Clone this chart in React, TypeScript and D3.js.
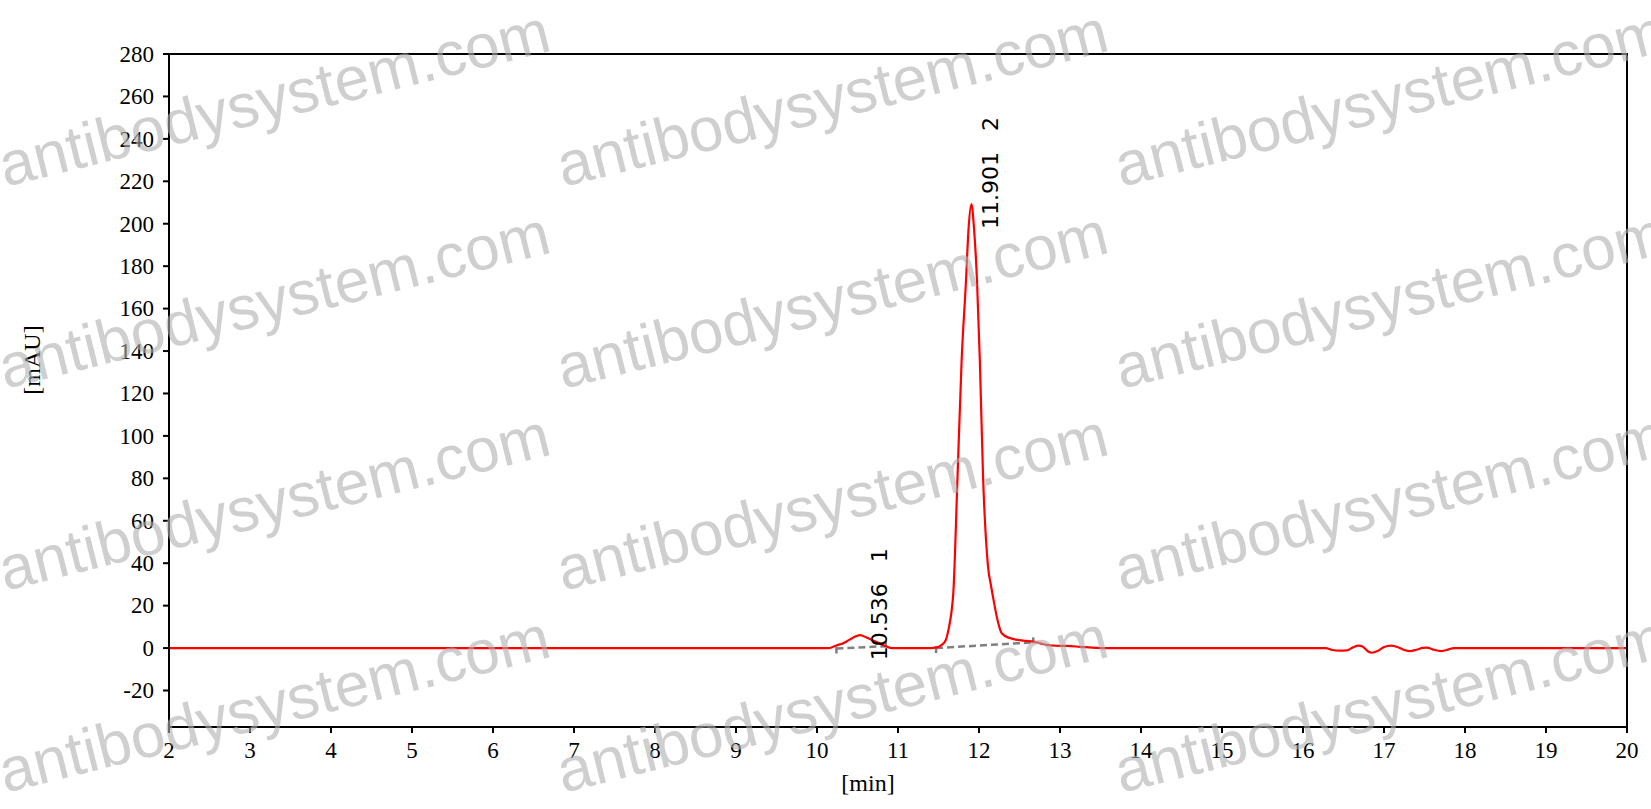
import React from 'react';
import * as d3 from 'd3';

// chromatogram trace (time in min, absorbance in mAU)
const traceTime = [
  2.0, 10.1, 10.14, 10.2, 10.26, 10.31, 10.36, 10.45, 10.53, 10.61, 10.68, 10.76, 10.84, 10.92,
  11.4, 11.48, 11.54, 11.59, 11.63, 11.66, 11.683, 11.735, 11.786, 11.84, 11.87, 11.906,
  11.94, 11.975, 12.01, 12.05, 12.11, 12.15, 12.18, 12.23, 12.28, 12.38, 12.46, 12.58, 12.67,
  12.76, 12.83, 12.95, 13.08, 13.25, 13.45, 13.6,
  16.28, 16.36, 16.45, 16.54, 16.62, 16.68, 16.74, 16.8, 16.85, 16.92, 17.0, 17.09, 17.18,
  17.26, 17.32, 17.4, 17.48, 17.53, 17.6, 17.71, 17.8, 17.86, 20.0,
];
const traceValue = [
  0, 0, 0, 0.6, 1.5, 2, 3, 5, 6.1, 5, 3.8, 2.5, 1, 0,
  0, 0.3, 1.5, 3.8, 10, 17, 26, 81, 136, 173.5, 197, 209.3,
  197, 173.5, 136, 81, 39, 29, 22.6, 13, 7, 4.7, 4, 3.4, 3,
  2.2, 1.5, 1.1, 1, 0.6, 0.1, 0,
  0, -0.9, -1.2, -1.1, 0.4, 1.2, 0.6, -1.5, -2.2, -1.4, 0.5, 1.2, 0.3,
  -1.0, -1.4, -0.8, 0.1, 0.2, -0.6, -1.4, -0.6, 0, 0,
];

// integrated peaks
const peakIds = ['1', '2'];
const peakRt = [10.536, 11.901];
const peakApex = [6.1, 209.3];
const baseStartT = [10.24, 11.47];
const baseStartV = [-0.2, 0];
const baseEndT = [10.85, 12.67];
const baseEndV = [0.9, 2.7];

const xTicks = d3.range(2, 21, 1);
const yTicks = d3.range(-20, 281, 20);

const watermarkX = [5, 563, 1121];
const watermarkY = [187, 389, 591, 793];

const W = 1651;
const H = 809;
const M = { left: 169, right: 1627, top: 54, bottom: 727 };

export default function App() {
  const x = d3.scaleLinear().domain([2, 20]).range([M.left, M.right]);
  const y = d3.scaleLinear().domain([-37.2, 280]).range([M.bottom, M.top]);

  const pts = traceTime.map((t, i) => [t, traceValue[i]] as [number, number]);
  const line = d3
    .line<[number, number]>()
    .x((d) => x(d[0]))
    .y((d) => y(d[1]))
    .curve(d3.curveMonotoneX);

  const serif = '"Liberation Serif", "Times New Roman", serif';

  return (
    <svg
      width={W}
      height={H}
      style={{ position: 'absolute', left: 0, top: 0, background: '#fff' }}
    >
      <defs>
        <clipPath id="plot">
          <rect x={M.left} y={M.top} width={M.right - M.left} height={M.bottom - M.top} />
        </clipPath>
      </defs>

      {/* baselines */}
      <g stroke="#808080" strokeWidth={2.5} fill="none">
        {peakIds.map((id, i) => {
          const x0 = x(baseStartT[i]);
          const y0 = y(baseStartV[i]);
          const x1 = x(baseEndT[i]);
          const y1 = y(baseEndV[i]);
          return (
            <g key={id}>
              <line x1={x0} y1={y0} x2={x1} y2={y1} strokeDasharray="7,4" />
              <line x1={x0} y1={y0 - 2} x2={x0} y2={y0 + 5} />
              <line x1={x1} y1={y1 - 5} x2={x1} y2={y1 + 1} />
            </g>
          );
        })}
      </g>

      <path
        d={line(pts) || ''}
        fill="none"
        stroke="#ff0000"
        strokeWidth={2.2}
        clipPath="url(#plot)"
      />

      {/* peak labels */}
      <g fontFamily='"DejaVu Sans", Verdana, sans-serif' fontSize={22} fill="#000">
        {peakIds.map((id, i) => (
          <text
            key={id}
            transform={`translate(${x(peakRt[i]) + 27},${y(peakApex[i]) + 25}) rotate(-90)`}
          >
            {peakRt[i].toFixed(3)}
            <tspan dx={21}>{id}</tspan>
          </text>
        ))}
      </g>

      {/* frame */}
      <rect
        x={M.left}
        y={M.top}
        width={M.right - M.left}
        height={M.bottom - M.top}
        fill="none"
        stroke="#000"
        strokeWidth={2}
      />

      {/* y axis */}
      <g fontFamily={serif} fontSize={23} fill="#000">
        {yTicks.map((t) => (
          <g key={t}>
            <line x1={M.left - 6} x2={M.left} y1={y(t)} y2={y(t)} stroke="#000" strokeWidth={2} />
            <text x={M.left - 15} y={y(t)} dy="0.34em" textAnchor="end">
              {t}
            </text>
          </g>
        ))}
      </g>

      {/* x axis */}
      <g fontFamily={serif} fontSize={23} fill="#000">
        {xTicks.map((t) => (
          <g key={t}>
            <line x1={x(t)} x2={x(t)} y1={M.bottom} y2={M.bottom + 6} stroke="#000" strokeWidth={2} />
            <text x={x(t)} y={758} textAnchor="middle">
              {t}
            </text>
          </g>
        ))}
      </g>

      <text x={868} y={791} textAnchor="middle" fontFamily={serif} fontSize={24}>
        [min]
      </text>
      <text
        transform="translate(40,360) rotate(-90)"
        textAnchor="middle"
        fontFamily={serif}
        fontSize={24}
      >
        [mAU]
      </text>

      {/* watermark */}
      <g
        fontFamily='"Liberation Sans", Arial, sans-serif'
        fontSize={62}
        fill="#b0b0b0"
        opacity={0.6}
      >
        {watermarkX.map((wx) =>
          watermarkY.map((wy) => (
            <text key={`${wx}-${wy}`} transform={`translate(${wx},${wy}) rotate(-14)`}>
              antibodysystem.com
            </text>
          ))
        )}
      </g>
    </svg>
  );
}
